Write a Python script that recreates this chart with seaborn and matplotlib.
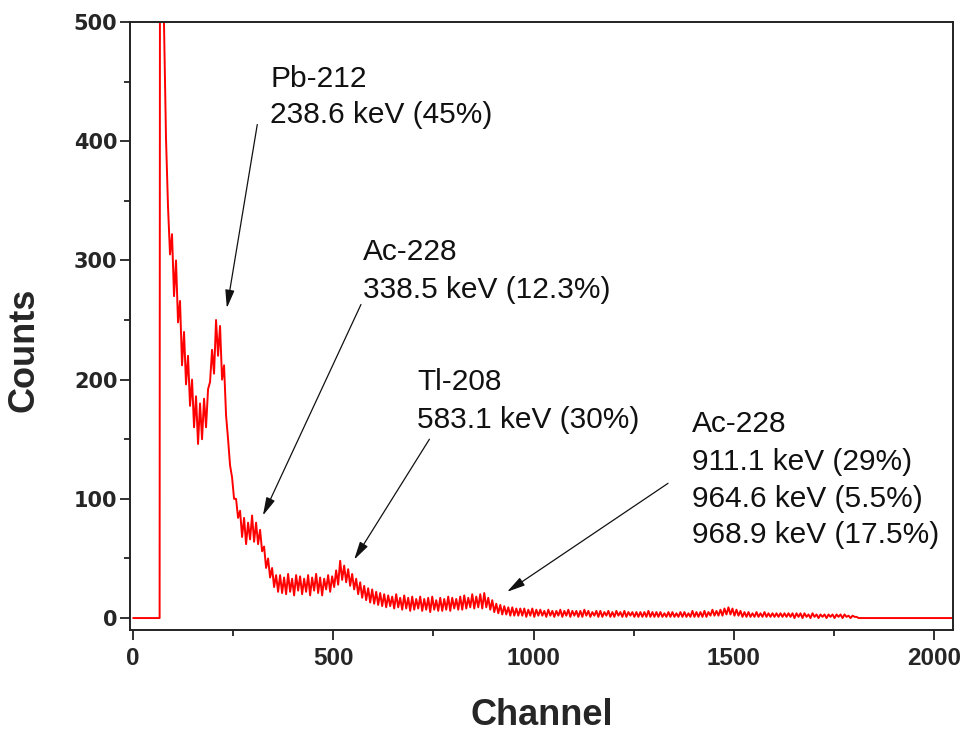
import numpy as np
import pandas as pd
import matplotlib
matplotlib.use("Agg")
import matplotlib.pyplot as plt
import seaborn as sns

# gamma spectrum, one value every 5 channels from channel 67
# (values swing up and down to follow the width of the noise band)
counts_low = [
    620, 555, 498, 402, 345, 305, 322, 270, 300, 248,
    266, 212, 240, 196, 220, 178, 200, 160, 186, 146,
    180, 150, 184, 160, 192, 198, 225, 205, 250, 220,
    245, 200, 212, 170, 150, 128, 118, 100, 100, 84,
    90, 68, 84, 62, 80, 66, 86, 64, 80, 62,
    74, 56, 60, 42, 50, 34, 42, 26, 36, 22,
]
counts_mid = [
    36, 21, 34, 20, 37, 22, 33, 19, 36, 23,
    35, 20, 33, 22, 36, 19, 34, 23, 37, 21,
    34, 19, 33, 24, 36, 22, 35, 26, 40, 28,
    48, 32, 44, 30, 41, 27, 37, 24, 33, 20,
    30, 17, 27, 15, 25, 13, 24, 12, 22, 11,
    21, 10, 20, 9, 19, 10, 18, 8, 20, 9,
    17, 7, 19, 8, 17, 6, 18, 7, 16, 8,
    18, 6, 16, 7, 17, 5, 18, 7, 15, 6,
    17, 6, 16, 7, 18, 6, 17, 8, 16, 7,
    18, 7, 19, 8, 17, 9, 20, 8, 18, 9,
    20, 8, 21, 9, 17, 7, 15, 5, 12, 4,
    11, 3, 10, 3, 9, 2, 9, 2, 8, 2,
]
counts_high = [
    8, 2, 8, 1, 7, 2, 8, 1, 7, 2,
    7, 2, 6, 1, 7, 2, 6, 1, 6, 2,
    7, 1, 6, 2, 7, 1, 6, 2, 6, 1,
    6, 1, 7, 2, 6, 1, 5, 2, 6, 1,
    6, 1, 5, 2, 6, 1, 5, 1, 6, 2,
    5, 1, 6, 1, 5, 2, 5, 1, 5, 1,
    5, 1, 5, 1, 6, 1, 5, 1, 5, 1,
    5, 1, 4, 1, 5, 1, 5, 1, 4, 1,
    5, 1, 5, 1, 4, 1, 6, 1, 5, 1,
    5, 1, 6, 1, 5, 2, 7, 2, 6, 2,
    7, 2, 8, 3, 9, 3, 8, 2, 7, 2,
    6, 1, 5, 1, 5, 1, 4, 1, 5, 1,
    4, 1, 5, 1, 4, 1, 4, 1, 4, 1,
    4, 1, 4, 1, 4, 1, 4, 0, 4, 1,
    4, 0, 4, 1, 3, 0, 4, 1, 3, 0,
    3, 1, 3, 0, 3, 1, 3, 0, 3, 1,
    3, 0, 3, 1, 2, 0, 2, 1, 1,
]
spectrum_start, spectrum_step = 67, 5

# empty channels below threshold and above the last recorded channel
zero_left = [0, 66]
zero_right = [1812, 2048]

# peak labels: (text lines, text position, arrow tail, arrow head)
peak_labels = [
    (["Pb-212", "238.6 keV (45%)"], (342, [445.7, 415.0]), (310, 414), (234, 260)),
    (["Ac-228", "338.5 keV (12.3%)"], (574, [300.3, 268.2]), (569, 263), (324, 86)),
    (["Tl-208", "583.1 keV (30%)"], (709, [191.3, 159.1]), (740, 150), (552, 49)),
    (["Ac-228", "911.1 keV (29%)", "964.6 keV (5.5%)", "968.9 keV (17.5%)"],
     (1396, [156.3, 124.2, 93.4, 62.7]), (1336, 113), (934, 22)),
]

x_ticks = [0, 500, 1000, 1500, 2000]
y_ticks = [0, 100, 200, 300, 400, 500]

counts = counts_low + counts_mid + counts_high
channels = spectrum_start + spectrum_step * np.arange(len(counts))

df = pd.DataFrame({
    "Channel": np.concatenate([zero_left, channels, zero_right]),
    "Counts": np.concatenate([[0, 0], counts, [0, 0]]),
})

sns.set_style("ticks")
plt.rcParams["font.family"] = ["Liberation Sans", "DejaVu Sans"]

fig = plt.figure(figsize=(9.65, 7.35), dpi=100)
ax = fig.add_axes([0.1347, 0.1429, 0.8529, 0.8272])

sns.lineplot(data=df, x="Channel", y="Counts", ax=ax, color="#FF0000",
             linewidth=1.4, errorbar=None, sort=False)

ax.set_xlim(-8, 2048)
ax.set_ylim(-10, 500)
ax.set_xticks(x_ticks)
ax.set_yticks(y_ticks)
ax.set_xticks([250, 750, 1250, 1750], minor=True)
ax.set_yticks([50, 150, 250, 350, 450], minor=True)

for s in ax.spines.values():
    s.set_visible(True)
    s.set_linewidth(1.4)
    s.set_color("#222222")

ax.tick_params(axis="both", which="major", direction="out", length=7,
               width=1.3, color="#222222")
ax.tick_params(axis="both", which="minor", direction="out", length=4,
               width=1.3, color="#222222")
ax.tick_params(axis="x", which="major", pad=5)
ax.tick_params(axis="y", which="major", pad=2)
ax.tick_params(top=False, right=False, which="both")

for lab in ax.get_xticklabels():
    lab.set_fontfamily("Liberation Sans")
    lab.set_fontweight("bold")
    lab.set_fontsize(17.5)
for lab in ax.get_yticklabels():
    lab.set_fontfamily("DejaVu Sans")
    lab.set_fontweight("bold")
    lab.set_fontsize(15)

ax.set_xlabel("Channel", fontsize=26, fontweight="bold")
ax.set_ylabel("Counts", fontsize=26, fontweight="bold")
ax.xaxis.set_label_coords(0.5, -0.112)
ax.yaxis.set_label_coords(-0.107, 0.46)

for lines, (tx, ty_list), tail, head in peak_labels:
    for line, ty in zip(lines, ty_list):
        ax.text(tx, ty, line, fontsize=21.5, ha="left", va="baseline",
                color="#111111")
    ax.annotate("", xy=head, xytext=tail,
                arrowprops=dict(arrowstyle="-|>,head_length=1.1,head_width=0.28",
                                mutation_scale=10, lw=0.9, color="#111111",
                                shrinkA=0, shrinkB=0))

fig.savefig("out.png", dpi=100, facecolor="white")
